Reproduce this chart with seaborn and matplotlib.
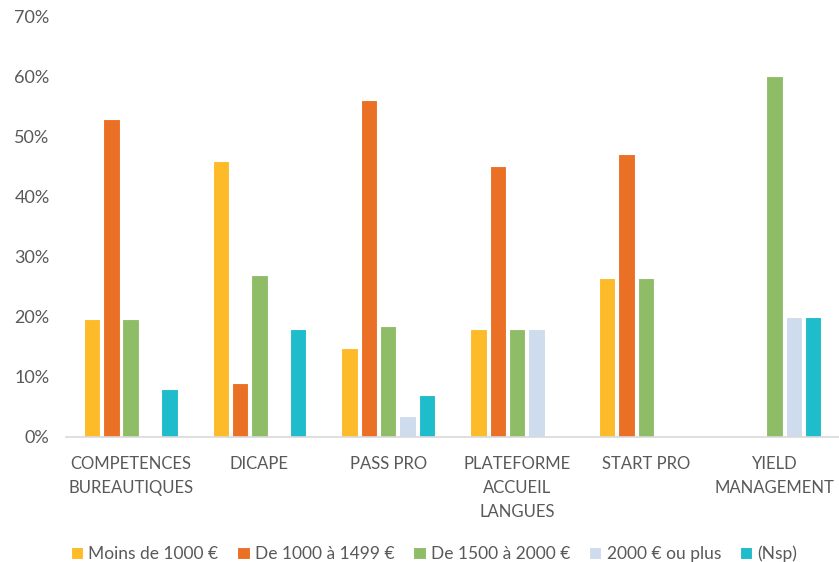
import pandas as pd
import numpy as np
import matplotlib.pyplot as plt
import seaborn as sns
from matplotlib.ticker import PercentFormatter

# categories and series (percent)
categories = ['COMPETENCES\nBUREAUTIQUES', 'DICAPE', 'PASS PRO',
              'PLATEFORME\nACCUEIL\nLANGUES', 'START PRO', 'YIELD\nMANAGEMENT']
series = ['Moins de 1000 €', 'De 1000 à 1499 €', 'De 1500 à 2000 €',
          '2000 € ou plus', '(Nsp)']
moins_1000 = [19.6, 45.9, 14.8, 18.0, 26.5, np.nan]
de_1000_1499 = [53.0, 9.0, 56.1, 45.2, 47.1, np.nan]
de_1500_2000 = [19.6, 26.9, 18.4, 18.0, 26.5, 60.1]
plus_2000 = [np.nan, np.nan, 3.4, 18.0, np.nan, 20.0]
nsp = [7.9, 18.0, 7.0, np.nan, np.nan, 20.0]

colors = ['#FDBB2A', '#EA7025', '#8FBD67', '#CFDCEE', '#1FBCCC']

# long format for seaborn
values = [moins_1000, de_1000_1499, de_1500_2000, plus_2000, nsp]
rows = []
for s, vals in zip(series, values):
    for c, v in zip(categories, vals):
        rows.append({'Formation': c, 'Salaire': s, 'Pct': v})
df = pd.DataFrame(rows).dropna()

sns.set_style('white')
plt.rcParams['font.family'] = ['Lato', 'DejaVu Sans']
text_color = '#595959'

fig = plt.figure(figsize=(8.39, 5.62), dpi=100)
ax = fig.add_axes([0.079, 0.223, 0.921, 0.747])

sns.barplot(data=df, x='Formation', y='Pct', hue='Salaire',
            order=categories, hue_order=series, palette=colors,
            saturation=1, width=0.75, gap=0.15, edgecolor='white',
            linewidth=0.8, errorbar=None, ax=ax)

ax.set_ylim(0, 70)
ax.set_xlim(-0.5, 5.5)
ax.set_yticks(np.arange(0, 71, 10))
ax.yaxis.set_major_formatter(PercentFormatter(decimals=0))
ax.set_xlabel('')
ax.set_ylabel('')
ax.tick_params(axis='both', length=0, labelcolor=text_color)
ax.tick_params(axis='y', pad=12, labelsize=13)
ax.tick_params(axis='x', pad=14, labelsize=12)
for lbl in ax.get_xticklabels():
    lbl.set_linespacing(1.6)

for side in ['top', 'right', 'left']:
    ax.spines[side].set_visible(False)
ax.spines['bottom'].set_color('#D9D9D9')
ax.spines['bottom'].set_linewidth(1.2)

ax.legend(loc='lower center', bbox_to_anchor=(0.476, -0.335), ncol=5,
          frameon=False, fontsize=12.5, labelcolor=text_color,
          handlelength=0.7, handleheight=0.7, handletextpad=0.3,
          columnspacing=1.1)

plt.savefig('out.png', dpi=100)
